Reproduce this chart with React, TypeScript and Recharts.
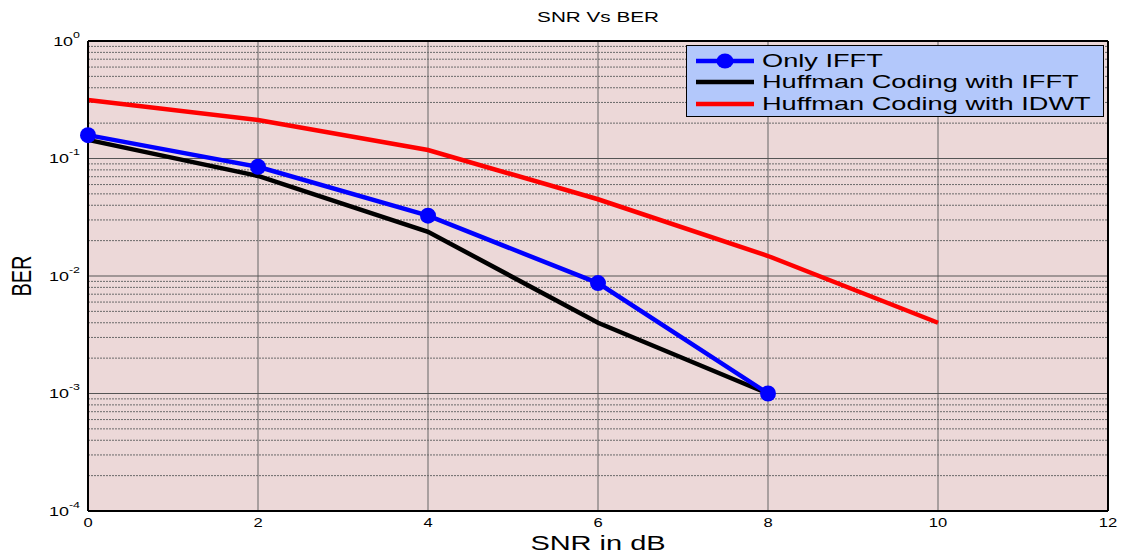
import {
  LineChart,
  Line,
  XAxis,
  YAxis,
  CartesianGrid,
  ReferenceLine,
  Label,
} from "recharts";

// SNR (dB) on x, BER on a log y axis
const snr = [0, 2, 4, 6, 8, 10];
const onlyIfft = [0.158, 0.085, 0.0326, 0.0087, 0.001, null];
const huffmanIfft = [0.144, 0.071, 0.0238, 0.004, 0.001, null];
const huffmanIdwt = [0.315, 0.213, 0.118, 0.045, 0.0148, 0.004];

const xTicks = [0, 2, 4, 6, 8, 10, 12];
const yTicks = [1e-4, 1e-3, 1e-2, 1e-1, 1];
const decades = [1e-4, 1e-3, 1e-2, 1e-1];
const minorMantissas = [2, 3, 4, 5, 6, 7, 8, 9];

const W = 1125;
const H = 557;
const STRETCH = 1.38; // the original figure is stretched sideways
const FONT = "'Liberation Sans', Arial, sans-serif";

const chartData = snr.map((x, i) => ({
  snr: x,
  onlyIfft: onlyIfft[i],
  huffmanIfft: huffmanIfft[i],
  huffmanIdwt: huffmanIdwt[i],
}));

// log-scale grid lines
const minorValues = decades.flatMap((d) => minorMantissas.map((m) => m * d));
const decadeValues = [1e-3, 1e-2, 1e-1];

function YTick({ x, y, payload }: any) {
  const exp = Math.round(Math.log10(payload.value));
  return (
    <g transform={`translate(${x},${y}) scale(${STRETCH},1)`}>
      <text x={0} y={4.5} textAnchor="end" fontFamily={FONT} fontSize={13} fill="#000">
        10
        <tspan dy={-8} fontSize={9}>
          {exp}
        </tspan>
      </text>
    </g>
  );
}

function XTick({ x, y, payload }: any) {
  return (
    <g transform={`translate(${x},${y}) scale(${STRETCH},1)`}>
      <text x={0} y={8} textAnchor="middle" fontFamily={FONT} fontSize={12} fill="#000">
        {payload.value}
      </text>
    </g>
  );
}

function StretchedLabel({ viewBox, value, dx = 0, dy = 0, size, rotate }: any) {
  const cx = viewBox.x + viewBox.width / 2 + dx;
  const cy = viewBox.y + viewBox.height / 2 + dy;
  return (
    <text
      transform={`translate(${cx},${cy}) scale(${STRETCH},1)${rotate ? " rotate(-90)" : ""}`}
      textAnchor="middle"
      dominantBaseline="central"
      fontFamily={FONT}
      fontSize={size}
      fill="#000"
    >
      {value}
    </text>
  );
}

const legendItems = [
  { name: "Only IFFT", color: "#0000ff", marker: true },
  { name: "Huffman Coding with IFFT", color: "#000000", marker: false },
  { name: "Huffman Coding with IDWT", color: "#ff0000", marker: false },
];

function LegendBox() {
  return (
    <div
      style={{
        position: "absolute",
        left: 686,
        top: 45,
        width: 418,
        height: 72,
        boxSizing: "border-box",
        background: "#b3c8fb",
        border: "1.5px solid #000",
        padding: "4px 0 0 9px",
        fontFamily: FONT,
      }}
    >
      {legendItems.map((it) => (
        <div key={it.name} style={{ display: "flex", alignItems: "center", height: 21.5 }}>
          <svg width={58} height={20} style={{ flexShrink: 0 }}>
            <line x1={0} y1={10} x2={58} y2={10} stroke={it.color} strokeWidth={4.5} />
            {it.marker && <ellipse cx={29} cy={10} rx={8.5} ry={7.5} fill={it.color} />}
          </svg>
          <span
            style={{
              display: "inline-block",
              marginLeft: 8,
              fontSize: 19,
              lineHeight: "20px",
              whiteSpace: "nowrap",
              transform: "scaleX(1.43)",
              transformOrigin: "left center",
            }}
          >
            {it.name}
          </span>
        </div>
      ))}
    </div>
  );
}

export default function App() {
  return (
    <div style={{ position: "relative", width: W, height: H, background: "#fff" }}>
      <style>{"body{margin:0}"}</style>
      <LineChart
        width={W}
        height={H}
        data={chartData}
        margin={{ top: 0, right: 0, bottom: 0, left: 0 }}
      >
        <CartesianGrid
          fill="#ecd8d8"
          horizontal={false}
          stroke="#666"
          strokeWidth={1}
        />
        {minorValues.map((v) => (
          <ReferenceLine key={v} y={v} stroke="#6a6a6a" strokeWidth={1} strokeDasharray="2 1" />
        ))}
        {decadeValues.map((v) => (
          <ReferenceLine key={v} y={v} stroke="#555" strokeWidth={1} />
        ))}
        <XAxis
          dataKey="snr"
          type="number"
          domain={[0, 12]}
          ticks={xTicks}
          tick={<XTick />}
          tickLine={false}
          axisLine={{ stroke: "#000", strokeWidth: 2 }}
          height={46}
          interval={0}
        >
          <Label content={<StretchedLabel size={21} dy={9} />} value="SNR in dB" />
        </XAxis>
        <XAxis
          xAxisId="top"
          orientation="top"
          type="number"
          domain={[0, 12]}
          tick={false}
          tickLine={false}
          axisLine={{ stroke: "#000", strokeWidth: 2 }}
          height={41}
        >
          <Label content={<StretchedLabel size={15} dy={-3} />} value="SNR Vs BER" />
        </XAxis>
        <YAxis
          scale="log"
          type="number"
          domain={[1e-4, 1]}
          ticks={yTicks}
          allowDataOverflow
          tick={<YTick />}
          tickLine={false}
          axisLine={{ stroke: "#000", strokeWidth: 2 }}
          width={88}
          interval={0}
        >
          <Label content={<StretchedLabel size={20} rotate dx={-23} />} value="BER" />
        </YAxis>
        <YAxis
          yAxisId="right"
          orientation="right"
          scale="log"
          type="number"
          domain={[1e-4, 1]}
          allowDataOverflow
          tick={false}
          tickLine={false}
          axisLine={{ stroke: "#000", strokeWidth: 2 }}
          width={17}
        />
        <Line
          type="linear"
          dataKey="huffmanIdwt"
          stroke="#ff0000"
          strokeWidth={4.5}
          dot={false}
          isAnimationActive={false}
        />
        <Line
          type="linear"
          dataKey="huffmanIfft"
          stroke="#000000"
          strokeWidth={4.5}
          dot={false}
          isAnimationActive={false}
        />
        <Line
          type="linear"
          dataKey="onlyIfft"
          stroke="#0000ff"
          strokeWidth={4.5}
          dot={{ r: 8, fill: "#0000ff", stroke: "#0000ff", strokeWidth: 0 }}
          isAnimationActive={false}
        />
      </LineChart>
      <LegendBox />
    </div>
  );
}
